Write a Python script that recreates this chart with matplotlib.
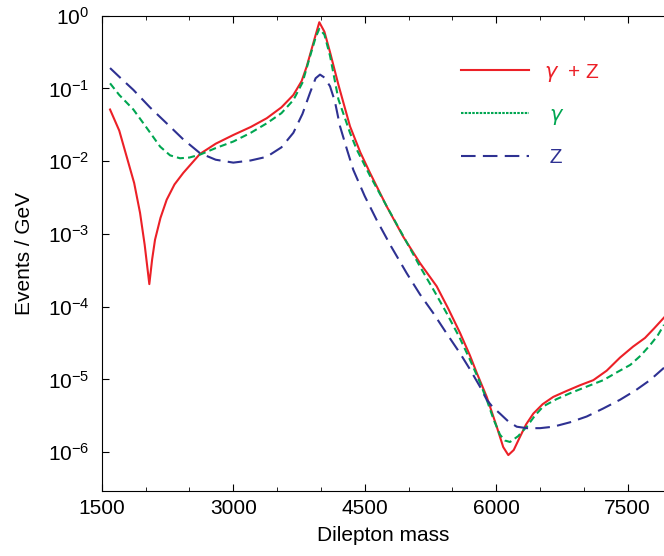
import numpy as np
import matplotlib.pyplot as plt
from matplotlib.lines import Line2D
from matplotlib.ticker import MultipleLocator, FixedLocator, FuncFormatter

plt.rcParams['font.family'] = ['Liberation Sans', 'DejaVu Sans']
plt.rcParams['mathtext.default'] = 'regular'

# Data (x = dilepton mass, values are log10(events / GeV))
mass_gz = [1595, 1700, 1785, 1870, 1937, 1990, 2043, 2075, 2108, 2170, 2241, 2330,
           2431, 2621, 2800, 3001, 3200, 3382, 3550, 3686, 3780, 3838, 3920, 3982,
           4040, 4104, 4200, 4332, 4450, 4560, 4750, 4940, 5130, 5321, 5450, 5587,
           5700, 5778, 5892, 6006, 6080, 6138, 6200, 6271, 6340, 6423, 6530, 6651,
           6800, 6956, 7108, 7260, 7412, 7560, 7697, 7800, 7914]
log_gz = [-1.29, -1.58, -1.94, -2.30, -2.71, -3.15, -3.69, -3.35, -3.08, -2.78, -2.53, -2.32,
          -2.16, -1.90, -1.76, -1.64, -1.53, -1.41, -1.26, -1.09, -0.90, -0.70, -0.35, -0.09,
          -0.22, -0.50, -0.95, -1.52, -1.88, -2.16, -2.62, -3.04, -3.40, -3.72, -4.02, -4.36,
          -4.67, -4.91, -5.24, -5.65, -5.93, -6.04, -5.97, -5.79, -5.62, -5.47, -5.34, -5.24,
          -5.16, -5.08, -5.01, -4.88, -4.70, -4.55, -4.43, -4.30, -4.15]

mass_g = [1595, 1700, 1861, 2000, 2166, 2280, 2393, 2500, 2621, 2800, 3001, 3200,
          3382, 3550, 3686, 3790, 3876, 3940, 3982, 4040, 4104, 4200, 4332, 4409,
          4560, 4751, 4940, 5131, 5300, 5435, 5580, 5701, 5800, 5892, 5970, 6043,
          6100, 6157, 6250, 6348, 6440, 6537, 6690, 6842, 7030, 7222, 7380, 7530,
          7650, 7754, 7840, 7914]
log_g = [-0.93, -1.09, -1.29, -1.52, -1.80, -1.92, -1.96, -1.95, -1.91, -1.82, -1.73, -1.61,
         -1.48, -1.34, -1.16, -0.92, -0.56, -0.30, -0.18, -0.26, -0.55, -1.15, -1.61, -1.84,
         -2.20, -2.62, -3.03, -3.45, -3.80, -4.09, -4.42, -4.73, -5.00, -5.28, -5.55, -5.76,
         -5.84, -5.86, -5.78, -5.65, -5.50, -5.37, -5.27, -5.19, -5.10, -5.01, -4.90, -4.80,
         -4.67, -4.53, -4.40, -4.25]

mass_z = [1595, 1700, 1861, 2050, 2241, 2430, 2621, 2800, 3001, 3200, 3382, 3550,
          3686, 3790, 3876, 3940, 3990, 4040, 4104, 4160, 4218, 4300, 4370, 4500,
          4637, 4800, 4979, 5130, 5283, 5430, 5587, 5700, 5815, 5892, 5960, 6043,
          6140, 6234, 6348, 6500, 6651, 6840, 7032, 7220, 7412, 7590, 7754, 7914]
log_z = [-0.72, -0.84, -1.02, -1.26, -1.48, -1.70, -1.89, -1.98, -2.02, -1.99, -1.94, -1.81,
         -1.61, -1.35, -1.06, -0.86, -0.81, -0.85, -0.97, -1.18, -1.52, -1.85, -2.12, -2.48,
         -2.81, -3.17, -3.54, -3.83, -4.09, -4.36, -4.64, -4.86, -5.10, -5.28, -5.38, -5.47,
         -5.58, -5.65, -5.67, -5.67, -5.65, -5.59, -5.51, -5.40, -5.28, -5.15, -5.01, -4.84]

labels = [r'$\mathit{\gamma}$  + Z', r' $\mathit{\gamma}$', ' Z']
colors = ['#ec2027', '#00a651', '#2e3192']

fig = plt.figure(figsize=(6.64, 5.56), dpi=100)
ax = fig.add_axes([0.1532, 0.1174, 0.8468, 0.8544])

ax.plot(mass_gz, 10 ** np.array(log_gz), color=colors[0], lw=1.5)
ax.plot(mass_g, 10 ** np.array(log_g), color=colors[1], lw=1.5, dashes=(3.4, 2.0))
ax.plot(mass_z, 10 ** np.array(log_z), color=colors[2], lw=1.5, dashes=(7, 3.5))

ax.set_yscale('log')
ax.set_xlim(1500, 7914)
ax.set_ylim(10 ** -6.53, 1)

ax.xaxis.set_major_locator(MultipleLocator(1500))
ax.xaxis.set_minor_locator(MultipleLocator(500))
ax.yaxis.set_major_locator(FixedLocator([10.0 ** e for e in range(-6, 1)]))
ax.yaxis.set_minor_locator(FixedLocator([]))
ax.yaxis.set_major_formatter(FuncFormatter(lambda v, p: r'$10^{%d}$' % round(np.log10(v))))

ax.tick_params(axis='x', which='both', direction='in', top=True, labelsize=15, pad=6)
ax.tick_params(axis='x', which='major', length=5)
ax.tick_params(axis='x', which='minor', length=3)
ax.tick_params(axis='y', which='major', direction='in', length=5, labelsize=15, pad=9)
ax.spines['right'].set_visible(False)

ax.set_xlabel('Dilepton mass', fontsize=15, labelpad=6)
ax.set_ylabel('Events / GeV', fontsize=15, labelpad=10)

handles = [Line2D([], [], color=colors[0], lw=1.5),
           Line2D([], [], color=colors[1], lw=1.5, dashes=(1.2, 0.6)),
           Line2D([], [], color=colors[2], lw=1.5, dashes=(7, 3.5))]
leg = ax.legend(handles, labels, loc='upper left', bbox_to_anchor=(0.62, 0.925),
                frameon=False, fontsize=15, handlelength=3.27, handletextpad=0.72,
                labelspacing=1.05, borderpad=0, labelcolor=colors)

fig.savefig('out.png', dpi=100)
